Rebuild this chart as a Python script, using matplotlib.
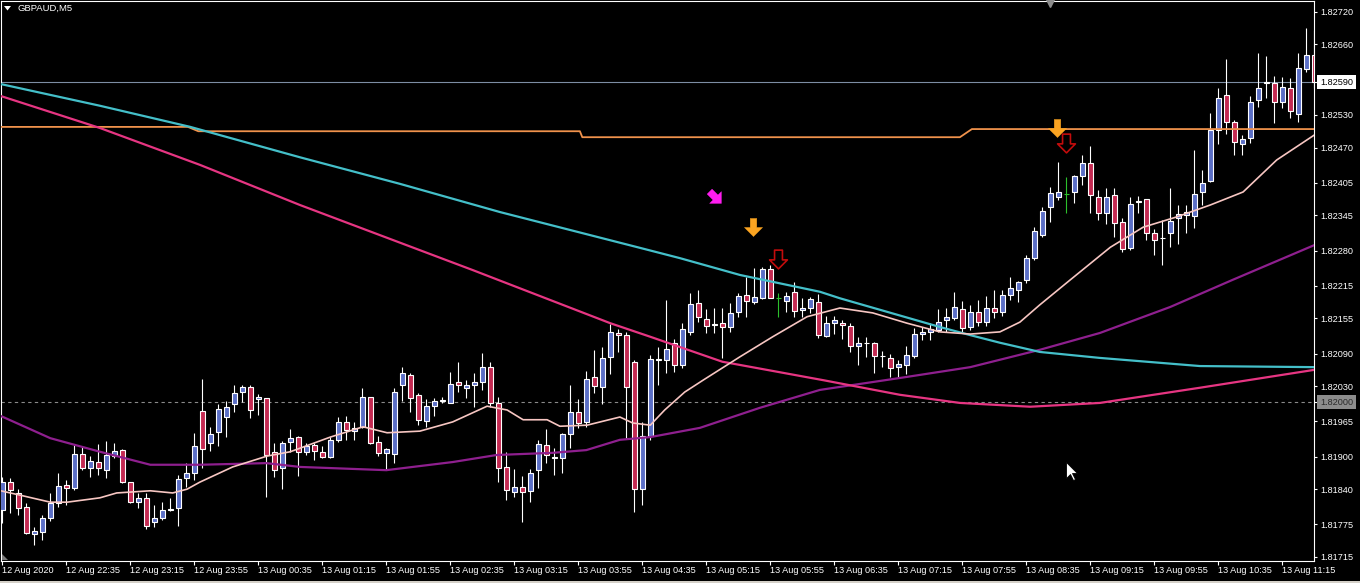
import matplotlib
matplotlib.use("Agg")
import matplotlib.pyplot as plt
import numpy as np
from matplotlib.path import Path
from matplotlib.patches import Polygon, Rectangle

plt.rcParams['font.family'] = ['Liberation Sans', 'DejaVu Sans']

# ---------------- data ----------------
symbol = "GBPAUD,M5"

opens = [1.81802, 1.81853, 1.81833, 1.81807, 1.81757, 1.81761, 1.81787, 1.81815, 1.81848, 1.81842,
         1.81905, 1.81879, 1.81890, 1.81875, 1.81901, 1.81912, 1.81853, 1.81816, 1.81824, 1.81779,
         1.81787, 1.81802, 1.81805, 1.81861, 1.81870, 1.81984, 1.81925, 1.81945, 1.81973, 1.81997,
         1.82019, 1.82028, 1.82006, 1.82008, 1.81909, 1.81879, 1.81927, 1.81936, 1.81909, 1.81921,
         1.81909, 1.81899, 1.81931, 1.81964, 1.81947, 1.81955, 1.82010, 1.81927, 1.81907, 1.81905,
         1.82032, 1.82051, 1.82014, 1.81966, 1.81993, 1.82003, 1.81999, 1.82038, 1.82027, 1.82032,
         1.82038, 1.82065, 1.81999, 1.81881, 1.81835, 1.81844, 1.81837, 1.81875, 1.81921, 1.81897,
         1.81897, 1.81942, 1.81982, 1.81964, 1.82047, 1.82028, 1.82084, 1.82128, 1.82124, 1.82075,
         1.81840, 1.81938, 1.82078, 1.82078, 1.82110, 1.82069, 1.82130, 1.82183, 1.82154, 1.82145,
         1.82146, 1.82139, 1.82167, 1.82198, 1.82185, 1.82192, 1.82246, 1.82192, 1.82187, 1.82204,
         1.82170, 1.82174, 1.82185, 1.82122, 1.82146, 1.82146, 1.82141, 1.82104, 1.82110, 1.82110,
         1.82086, 1.82082, 1.82065, 1.82069, 1.82086, 1.82126, 1.82130, 1.82134, 1.82152, 1.82156,
         1.82172, 1.82139, 1.82167, 1.82148, 1.82174, 1.82167, 1.82198, 1.82207, 1.82226, 1.82266,
         1.82309, 1.82360, 1.82379, 1.82384, 1.82388, 1.82417, 1.82441, 1.82379, 1.82349, 1.82382,
         1.82333, 1.82285, 1.82370, 1.82375, 1.82312, 1.82303, 1.82312, 1.82340, 1.82345, 1.82344,
         1.82388, 1.82408, 1.82502, 1.82567, 1.82517, 1.82476, 1.82488, 1.82558, 1.82589, 1.82589,
         1.82554, 1.82580, 1.82532, 1.82615, 1.82641]

highs = [1.81862, 1.81861, 1.81840, 1.81815, 1.81770, 1.81792, 1.81833, 1.81870, 1.81857, 1.81921,
         1.81918, 1.81901, 1.81923, 1.81929, 1.81925, 1.81914, 1.81853, 1.81833, 1.81833, 1.81811,
         1.81816, 1.81824, 1.81866, 1.81888, 1.81944, 1.82043, 1.81955, 1.81997, 1.82003, 1.82032,
         1.82032, 1.82032, 1.82015, 1.82008, 1.81925, 1.81929, 1.81951, 1.81938, 1.81925, 1.81925,
         1.81920, 1.81936, 1.81973, 1.81975, 1.81964, 1.82027, 1.82010, 1.81938, 1.81916, 1.82027,
         1.82065, 1.82054, 1.82017, 1.82006, 1.82008, 1.82010, 1.82056, 1.82075, 1.82041, 1.82054,
         1.82091, 1.82075, 1.82010, 1.81909, 1.81877, 1.81864, 1.81877, 1.81931, 1.81951, 1.81916,
         1.81944, 1.82032, 1.82006, 1.82058, 1.82097, 1.82102, 1.82145, 1.82135, 1.82130, 1.82078,
         1.81964, 1.82087, 1.82102, 1.82189, 1.82117, 1.82146, 1.82202, 1.82207, 1.82172, 1.82174,
         1.82174, 1.82183, 1.82202, 1.82231, 1.82248, 1.82250, 1.82253, 1.82202, 1.82204, 1.82222,
         1.82192, 1.82194, 1.82200, 1.82159, 1.82159, 1.82152, 1.82146, 1.82121, 1.82121, 1.82111,
         1.82095, 1.82089, 1.82078, 1.82104, 1.82137, 1.82139, 1.82146, 1.82172, 1.82174, 1.82204,
         1.82187, 1.82180, 1.82189, 1.82196, 1.82207, 1.82207, 1.82231, 1.82224, 1.82272, 1.82323,
         1.82360, 1.82397, 1.82443, 1.82416, 1.82419, 1.82456, 1.82473, 1.82392, 1.82395, 1.82395,
         1.82340, 1.82379, 1.82381, 1.82375, 1.82320, 1.82336, 1.82395, 1.82364, 1.82364, 1.82465,
         1.82428, 1.82534, 1.82580, 1.82633, 1.82521, 1.82493, 1.82565, 1.82644, 1.82639, 1.82602,
         1.82600, 1.82598, 1.82644, 1.82690, 1.82687]

lows = [1.81778, 1.81796, 1.81792, 1.81757, 1.81737, 1.81746, 1.81781, 1.81807, 1.81811, 1.81838,
        1.81875, 1.81862, 1.81866, 1.81861, 1.81897, 1.81851, 1.81815, 1.81805, 1.81767, 1.81770,
        1.81783, 1.81800, 1.81772, 1.81844, 1.81857, 1.81879, 1.81910, 1.81920, 1.81936, 1.81982,
        1.82001, 1.81971, 1.81977, 1.81826, 1.81862, 1.81840, 1.81909, 1.81864, 1.81903, 1.81894,
        1.81897, 1.81897, 1.81927, 1.81931, 1.81931, 1.81953, 1.81923, 1.81901, 1.81875, 1.81888,
        1.82003, 1.81982, 1.81958, 1.81955, 1.81975, 1.81999, 1.81999, 1.82019, 1.82008, 1.81992,
        1.82023, 1.81992, 1.81853, 1.81820, 1.81826, 1.81779, 1.81816, 1.81842, 1.81888, 1.81866,
        1.81870, 1.81916, 1.81953, 1.81955, 1.82017, 1.81997, 1.82052, 1.82093, 1.81934, 1.81798,
        1.81811, 1.81931, 1.82032, 1.82054, 1.82056, 1.82063, 1.82124, 1.82148, 1.82128, 1.82128,
        1.82082, 1.82130, 1.82158, 1.82158, 1.82181, 1.82191, 1.82192, 1.82158, 1.82167, 1.82158,
        1.82158, 1.82165, 1.82119, 1.82121, 1.82126, 1.82117, 1.82093, 1.82069, 1.82084, 1.82054,
        1.82065, 1.82047, 1.82047, 1.82052, 1.82082, 1.82115, 1.82115, 1.82130, 1.82130, 1.82152,
        1.82130, 1.82134, 1.82141, 1.82141, 1.82156, 1.82159, 1.82189, 1.82185, 1.82220, 1.82263,
        1.82305, 1.82333, 1.82373, 1.82349, 1.82368, 1.82401, 1.82349, 1.82336, 1.82329, 1.82305,
        1.82277, 1.82281, 1.82349, 1.82299, 1.82272, 1.82253, 1.82286, 1.82292, 1.82312, 1.82322,
        1.82364, 1.82406, 1.82476, 1.82495, 1.82456, 1.82456, 1.82478, 1.82545, 1.82561, 1.82515,
        1.82543, 1.82524, 1.82517, 1.82609, 1.82580]

closes = [1.81853, 1.81838, 1.81805, 1.81759, 1.81763, 1.81787, 1.81815, 1.81846, 1.81842, 1.81905,
          1.81879, 1.81892, 1.81879, 1.81903, 1.81910, 1.81853, 1.81816, 1.81824, 1.81772, 1.81787,
          1.81802, 1.81803, 1.81859, 1.81870, 1.81920, 1.81914, 1.81942, 1.81988, 1.81992, 1.82017,
          1.82028, 1.81986, 1.82010, 1.81903, 1.81875, 1.81925, 1.81934, 1.81909, 1.81920, 1.81910,
          1.81899, 1.81931, 1.81964, 1.81949, 1.81953, 1.82010, 1.81925, 1.81907, 1.81914, 1.82019,
          1.82054, 1.82008, 1.81968, 1.81993, 1.82003, 1.82004, 1.82034, 1.82032, 1.82032, 1.82038,
          1.82065, 1.81999, 1.81879, 1.81838, 1.81844, 1.81835, 1.81870, 1.81923, 1.81903, 1.81899,
          1.81942, 1.81982, 1.81962, 1.82043, 1.82030, 1.82082, 1.82130, 1.82124, 1.82028, 1.81840,
          1.81938, 1.82080, 1.82080, 1.82098, 1.82069, 1.82135, 1.82181, 1.82158, 1.82141, 1.82143,
          1.82139, 1.82165, 1.82196, 1.82187, 1.82194, 1.82246, 1.82192, 1.82192, 1.82196, 1.82169,
          1.82174, 1.82191, 1.82124, 1.82146, 1.82152, 1.82143, 1.82104, 1.82110, 1.82110, 1.82086,
          1.82086, 1.82063, 1.82071, 1.82087, 1.82126, 1.82130, 1.82135, 1.82148, 1.82158, 1.82176,
          1.82137, 1.82167, 1.82148, 1.82174, 1.82167, 1.82198, 1.82211, 1.82222, 1.82266, 1.82316,
          1.82353, 1.82386, 1.82388, 1.82384, 1.82417, 1.82441, 1.82382, 1.82349, 1.82379, 1.82331,
          1.82283, 1.82366, 1.82371, 1.82312, 1.82299, 1.82303, 1.82334, 1.82347, 1.82351, 1.82384,
          1.82404, 1.82502, 1.82561, 1.82517, 1.82480, 1.82486, 1.82554, 1.82580, 1.82590, 1.82554,
          1.82582, 1.82537, 1.82617, 1.82641, 1.82590]

green_doji = [97, 133]

x_tick_bars = list(range(0, 161, 8))
x_tick_labels = ["12 Aug 2020", "12 Aug 22:35", "12 Aug 23:15", "12 Aug 23:55", "13 Aug 00:35",
                 "13 Aug 01:15", "13 Aug 01:55", "13 Aug 02:35", "13 Aug 03:15", "13 Aug 03:55",
                 "13 Aug 04:35", "13 Aug 05:15", "13 Aug 05:55", "13 Aug 06:35", "13 Aug 07:15",
                 "13 Aug 07:55", "13 Aug 08:35", "13 Aug 09:15", "13 Aug 09:55", "13 Aug 10:35",
                 "13 Aug 11:15"]
y_ticks = [1.82720, 1.82660, 1.82590, 1.82530, 1.82470, 1.82405, 1.82345, 1.82280, 1.82215,
           1.82155, 1.82090, 1.82030, 1.82000, 1.81965, 1.81900, 1.81840, 1.81775, 1.81715]
bid_price = 1.82590
level_price = 1.82000

# indicator lines (bar position, price)
cyan_bars = [-0.2, 12.2, 23.5, 37.2, 49.7, 62.2, 79.7, 84.7, 92.2, 102.2, 104.7, 117.2, 121.0,
             124.7, 129.7, 137.2, 149.7, 164.0]
cyan_vals = [1.82587, 1.82547, 1.82508, 1.82452, 1.82403, 1.82351, 1.82285, 1.82266, 1.82235,
             1.82204, 1.82192, 1.82139, 1.82124, 1.82110, 1.82093, 1.82082, 1.82067, 1.82065]

pink_bars = [-0.2, 12.2, 24.7, 37.2, 58.8, 76.0, 81.0, 90.0, 102.6, 112.2, 119.7, 128.5, 137.2,
             149.7, 164.0]
pink_vals = [1.82565, 1.82506, 1.82438, 1.82364, 1.82244, 1.82146, 1.82121, 1.82075, 1.82041,
             1.82014, 1.81999, 1.81992, 1.81999, 1.82027, 1.82060]

purple_bars = [-0.2, 6.0, 12.2, 18.5, 24.7, 33.0, 37.2, 48.0, 56.3, 61.8, 68.8, 73.0, 77.2, 81.0,
               87.2, 94.7, 102.2, 112.2, 121.0, 129.7, 137.2, 146.0, 153.8, 164.0]
purple_vals = [1.81975, 1.81934, 1.81909, 1.81885, 1.81885, 1.81888, 1.81881, 1.81875, 1.81890,
               1.81903, 1.81907, 1.81912, 1.81931, 1.81936, 1.81953, 1.81990, 1.82023, 1.82045,
               1.82065, 1.82097, 1.82128, 1.82176, 1.82226, 1.82290]

light_bars = [-0.2, 2.2, 6.0, 8.1, 12.2, 14.3, 18.5, 21.3, 23.1, 24.7, 28.8, 33.1, 36.0, 41.0,
              45.1, 48.1, 52.2, 56.3, 60.6, 63.1, 65.1, 68.1, 69.7, 73.1, 77.2, 78.8, 81.0, 82.8,
              85.3, 87.6, 92.2, 96.3, 100.6, 104.7, 108.8, 113.1, 117.2, 121.0, 124.7, 127.2,
              129.7, 133.5, 138.5, 142.6, 146.8, 151.0, 155.1, 159.3, 164.0]
light_vals = [1.81837, 1.81829, 1.81816, 1.81816, 1.81824, 1.81833, 1.81837, 1.81833, 1.81840,
              1.81853, 1.81881, 1.81901, 1.81909, 1.81936, 1.81955, 1.81944, 1.81947, 1.81964,
              1.81993, 1.81986, 1.81968, 1.81968, 1.81956, 1.81958, 1.81973, 1.81962, 1.81958,
              1.81986, 1.82019, 1.82041, 1.82084, 1.82121, 1.82158, 1.82174, 1.82165, 1.82146,
              1.82130, 1.82126, 1.82130, 1.82148, 1.82180, 1.82226, 1.82286, 1.82323, 1.82342,
              1.82364, 1.82388, 1.82447, 1.82493]

orange_bars = [-0.2, 23.2, 24.5, 72.2, 72.5, 119.7, 121.2, 164.0]
orange_vals = [1.82508, 1.82508, 1.82500, 1.82500, 1.82489, 1.82489, 1.82504, 1.82504]

orange_arrow_bars = [93.8, 131.8]
orange_arrow_vals = [1.82323, 1.82506]
red_arrow_bars = [96.9, 133.0]
red_arrow_vals = [1.82265, 1.82478]
magenta_arrow_bars = [89.1]
magenta_arrow_vals = [1.82379]

cursor_bar, cursor_val = 133.0, 1.81890

# ---------------- layout ----------------
W, H = 1360, 583
fig = plt.figure(figsize=(W / 100, H / 100), dpi=100, facecolor='black')
ax_l, ax_r, ax_t, ax_b = 1, 1314, 1, 561          # frame in pixels
ax = fig.add_axes([ax_l / W, 1 - ax_b / H, (ax_r - ax_l) / W, (ax_b - ax_t) / H])
ax.set_facecolor('black')

bar_px, bar0_px = 8.0, 2.3
top_price, price_per_px = 1.82742, 0.00001844
ax.set_xlim((ax_l - bar0_px) / bar_px, (ax_r - bar0_px) / bar_px)
ax.set_ylim(top_price - ax_b * price_per_px, top_price - ax_t * price_per_px)

for s in ax.spines.values():
    s.set_color('white')
    s.set_linewidth(0.8)

# horizontal lines
ax.axhline(bid_price, color='#7d8da3', lw=0.8, zorder=1)
ax.axhline(level_price, color='#8a8a8a', lw=0.8, ls=(0, (3, 3)), zorder=1)

# candles
n = min(len(opens), len(highs), len(lows), len(closes))
o = np.array(opens[:n]); h = np.array(highs[:n]); l = np.array(lows[:n]); c = np.array(closes[:n])
x = np.arange(n)
bull_col, bear_col, green_col = '#5b6fc6', '#c42a52', '#2cc02c'
edge_cols = [green_col if i in green_doji else 'white' for i in range(n)]
body_cols = [bull_col if c[i] > o[i] else (bear_col if c[i] < o[i] else 'white') for i in range(n)]
ax.vlines(x, l, h, colors=edge_cols, linewidth=0.8, zorder=2)
ax.bar(x, np.abs(c - o), bottom=np.minimum(o, c), width=0.64, color=body_cols,
       edgecolor=edge_cols, linewidth=0.8, zorder=3)

# indicator lines
ax.plot(orange_bars, orange_vals, color='#f0924c', lw=1.3, zorder=4)
ax.plot(purple_bars, purple_vals, color='#8e1f8e', lw=1.6, zorder=4)
ax.plot(pink_bars, pink_vals, color='#e63582', lw=1.6, zorder=4)
ax.plot(cyan_bars, cyan_vals, color='#44bfc9', lw=1.6, zorder=4)
ax.plot(light_bars, light_vals, color='#f7c6c2', lw=1.2, zorder=4)


# arrow markers
def arrow_path(shaft, head, head_len, angle=0.0):
    y0 = 0.5 - (1 - head_len)
    v = np.array([(-shaft / 2, 0.5), (shaft / 2, 0.5), (shaft / 2, y0), (head / 2, y0), (0, -0.5),
                  (-head / 2, y0), (-shaft / 2, y0), (-shaft / 2, 0.5)])
    a = np.deg2rad(angle)
    R = np.array([[np.cos(a), -np.sin(a)], [np.sin(a), np.cos(a)]])
    v = v @ R.T
    codes = [Path.MOVETO] + [Path.LINETO] * 6 + [Path.CLOSEPOLY]
    return Path(v, codes)


ax.plot(orange_arrow_bars, orange_arrow_vals, ls='none', marker=arrow_path(0.36, 1.0, 0.5),
        ms=13, mfc='#fba421', mec='#fba421', mew=0.3, zorder=6)
ax.plot(red_arrow_bars, red_arrow_vals, ls='none', marker=arrow_path(0.42, 0.95, 0.48),
        ms=13.5, mfc='none', mec='#c20c0c', mew=1.2, zorder=6)
ax.plot(magenta_arrow_bars, magenta_arrow_vals, ls='none', marker=arrow_path(0.42, 1.0, 0.5, 45),
        ms=12, mfc='#ff1cf0', mec='#ff1cf0', mew=0.3, zorder=6)

# mouse cursor
cur = np.array([(0, 0), (0, -16), (4, -12), (7, -18), (9, -17), (6, -11), (11, -11), (0, 0)], float)
cur_path = Path(cur, [Path.MOVETO] + [Path.LINETO] * 6 + [Path.CLOSEPOLY])
ax.plot([cursor_bar], [cursor_val], ls='none', marker=cur_path, ms=26, mfc='white', mec='black',
        mew=0.6, zorder=7)

# small shift marker on top
ax.plot([130.9], [top_price - 2.5 * price_per_px], ls='none', marker='v', ms=5.5, color='#8c8c8c',
        clip_on=False, zorder=7)

# ticks
ax.yaxis.tick_right()
ax.set_yticks(y_ticks)
ax.set_yticklabels(['' if abs(v - bid_price) < 1e-7 or abs(v - level_price) < 1e-7 else f"{v:.5f}"
                    for v in y_ticks])
ax.tick_params(axis='y', which='both', direction='out', length=2.2, width=0.8, pad=2.6,
               colors='white', labelsize=6.6, left=False, right=True,
               labelleft=False, labelright=True)
ax.set_xticks(x_tick_bars)
ax.set_xticklabels(x_tick_labels, ha='left')
ax.tick_params(axis='x', direction='out', length=3, width=0.8, pad=0.8, colors='white',
               labelsize=6.6)

# price labels with boxes
ax.annotate(f"{bid_price:.5f}", xy=(1, bid_price), xycoords=('axes fraction', 'data'),
            xytext=(6, 0), textcoords='offset pixels', va='center', ha='left', fontsize=6.6,
            color='black', bbox=dict(boxstyle='square,pad=0.28', fc='white', ec='none'), zorder=8,
            annotation_clip=False)
ax.annotate(f"{level_price:.5f}", xy=(1, level_price), xycoords=('axes fraction', 'data'),
            xytext=(6, 0), textcoords='offset pixels', va='center', ha='left', fontsize=6.6,
            color='#2a2a2a', bbox=dict(boxstyle='square,pad=0.28', fc='#8c8c8c', ec='none'), zorder=8,
            annotation_clip=False)


# title with triangle
def px(xp, yp):
    return (xp / W, 1 - yp / H)


fig.patches.append(Polygon([px(4, 6), px(11, 6), px(7.5, 10.5)], closed=True, transform=fig.transFigure,
                           facecolor='white', edgecolor='none'))
fig.text(*px(17, 8.5), symbol, color='white', fontsize=6.8, va='center', ha='left')

# bottom-left corner marker
fig.patches.append(Polygon([px(2, 554), px(2, 560), px(8, 560)], closed=True, transform=fig.transFigure,
                           facecolor='#7a7a7a', edgecolor='none'))
# status strip
fig.patches.append(Rectangle(px(0, 583), 1, 2 / H, transform=fig.transFigure, facecolor='#d4d0c8',
                             edgecolor='none'))

fig.savefig('out.png', dpi=100, facecolor='black')
